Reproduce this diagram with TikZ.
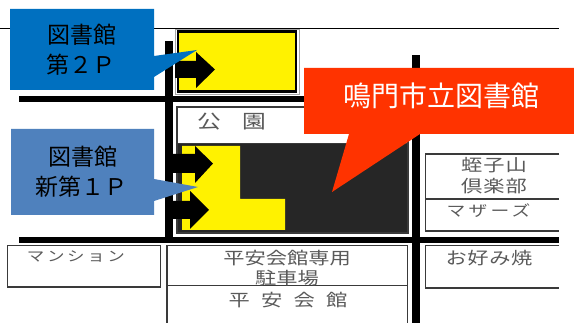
\documentclass[tikz,border=0pt]{standalone}
\usepackage{graphicx}
\usepackage{fontspec}
\newfontfamily\cjk{Noto Sans CJK JP}
\definecolor{blueA}{HTML}{0070C0}
\definecolor{blueB}{HTML}{4F81BD}
\definecolor{redC}{HTML}{FF3300}
\definecolor{darkfill}{HTML}{262626}
\definecolor{mapline}{HTML}{3A3A3A}
\definecolor{maptext}{HTML}{5A5A5A}
\tikzset{
  x=1pt,y=-1pt,
  road/.style={fill=black},
  lot/.style={draw=mapline,line width=1.4pt,fill=white},
  blockarrow/.style={fill=black},
  yellowlot/.style={fill=yellow},
  calltext/.style={font=\cjk\fontsize{23}{26}\selectfont,text=black,inner sep=0pt},
  redtext/.style={font=\cjk\fontsize{28}{32}\selectfont,text=white,inner sep=0pt},
  maplabel/.style={font=\cjk\fontsize{#1}{20}\selectfont,text=maptext,inner sep=0pt},
  maplabel/.default=17
}
\newcommand{\wide}[1]{\scalebox{1.25}[1]{#1}}
\begin{document}
\begin{tikzpicture}
\useasboundingbox (0,0) rectangle (574,323);
\fill[white] (0,0) rectangle (574,323);
% top rule
\draw[black,line width=0.9pt] (0,28.5) -- (559,28.5);
% roads
\fill[road] (19,96) rectangle (310,102);
\fill[road] (19,237.5) rectangle (559,243);
\fill[road] (165,41) rectangle (173,243);
\fill[road] (412,55) rectangle (420,323);
% top yellow lot
\draw[gray!70,line width=0.6pt] (175.5,29.5) rectangle (299,94.5);
\draw[black,fill=yellow,line width=2.6pt] (178,31.5) rectangle (296,91.5);
% park lot
\draw[lot] (177,107) rectangle (408,233);
\fill[darkfill] (178,143.5) rectangle (407,232);
\draw[mapline,line width=1pt] (177,143.5) -- (408,143.5);
\node[maplabel=19] (park1) at (209,122) {\wide{公}};
\node[maplabel=19] (park2) at (254,122) {\wide{園}};
% yellow L
\fill[yellowlot] (182,146) -- (240,146) -- (240,199) -- (285,199) -- (285,230) -- (182,230) -- cycle;
% arrows
\fill[blockarrow] (175,61) -- (196,61) -- (196,52) -- (215,69.5) -- (196,88) -- (196,78) -- (175,78) -- cycle;
\fill[blockarrow] (173,154) -- (195,154) -- (195,146) -- (213,163.5) -- (195,183) -- (195,173) -- (173,173) -- cycle;
\fill[blockarrow] (173,201) -- (190,201) -- (190,191) -- (209,210) -- (190,229) -- (190,219) -- (173,219) -- cycle;
% right lots
\draw[lot] (559,154) -- (425.5,154) -- (425.5,231) -- (559,231);
\draw[mapline,line width=1.4pt] (425.5,199) -- (559,199);
\draw[lot,fill=none] (559,245.5) -- (425.5,245.5) -- (425.5,288) -- (559,288);
\draw[lot] (7.5,245.5) rectangle (160.5,287);
\draw[lot,fill=none] (167,323) -- (167,245.5) -- (407.5,245.5) -- (407.5,323);
\draw[mapline,line width=1pt] (167,286) -- (407.5,286);
% map labels
\node[maplabel=14] (mansion) at (76,257) {\wide{\addfontfeature{LetterSpace=15}マンション}};
\node[maplabel=17] (hlot1) at (287,258) {\wide{平安会館専用}};
\node[maplabel=17] (hlot2) at (287,278) {\wide{駐車場}};
\node[maplabel=17] (hall) at (288,300) {\wide{平\hspace{9pt}安\hspace{9pt}会\hspace{9pt}館}};
\node[maplabel=17] (ebi1) at (494,165) {\wide{\addfontfeature{LetterSpace=5}蛭子山}};
\node[maplabel=17] (ebi2) at (494,186) {\wide{\addfontfeature{LetterSpace=5}倶楽部}};
\node[maplabel=15] (mothers) at (488.5,211) {\wide{\addfontfeature{LetterSpace=17}マザーズ}};
\node[maplabel=17] (okonomi) at (489,258) {\wide{\addfontfeature{LetterSpace=3}お好み焼}};
% callouts
\fill[blueA] (10,9) -- (154,9) -- (154,56) -- (197,50) -- (154,77) -- (154,90) -- (10,90) -- cycle;
\fill[blueB] (11,129) -- (154,129) -- (154,179) -- (198,187) -- (154,201) -- (154,215) -- (11,215) -- cycle;
\fill[redC] (304,68) -- (574,68) -- (574,134) -- (420,134) -- (332,192) -- (349,134) -- (304,134) -- cycle;
\node[calltext] (a1) at (82,35) {図書館};
\node[calltext] (a2) at (81,65) {第２Ｐ};
\node[calltext] (b1) at (83,157) {図書館};
\node[calltext] (b2) at (81,187) {新第１Ｐ};
\node[redtext] (c1) at (441,96) {鳴門市立図書館};
\end{tikzpicture}
\end{document}
